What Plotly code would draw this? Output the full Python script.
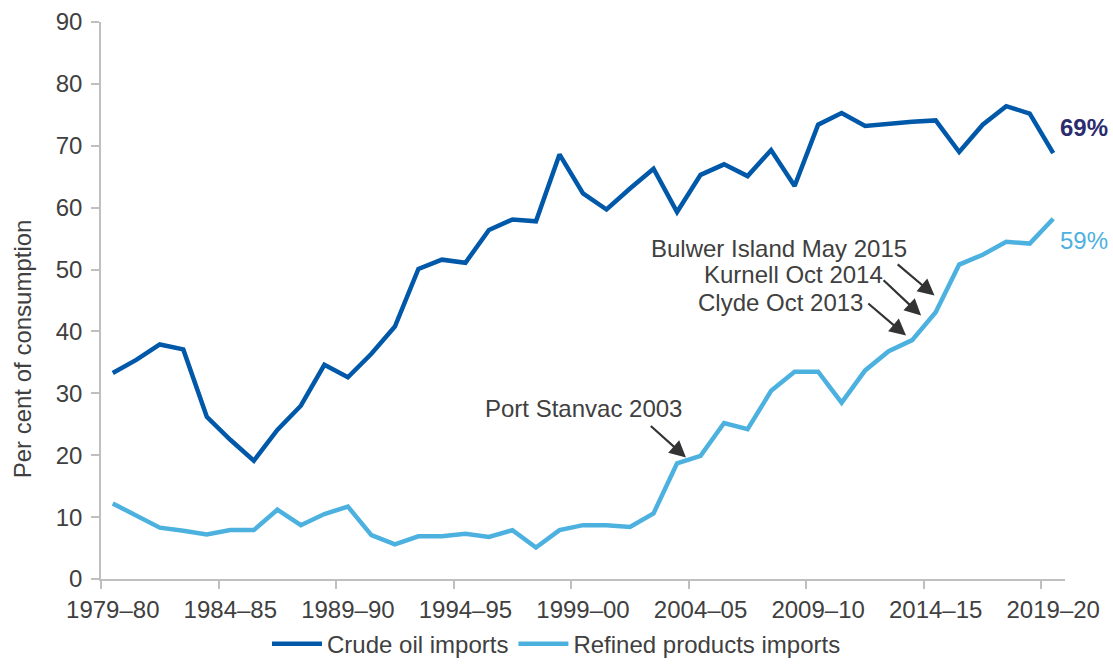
import plotly.graph_objects as go

# ── Data ─────────────────────────────────────────────────────────────────────

YEARS = [
    "1979–80", "1980–81", "1981–82", "1982–83", "1983–84",
    "1984–85", "1985–86", "1986–87", "1987–88", "1988–89",
    "1989–90", "1990–91", "1991–92", "1992–93", "1993–94",
    "1994–95", "1995–96", "1996–97", "1997–98", "1998–99",
    "1999–00", "2000–01", "2001–02", "2002–03", "2003–04",
    "2004–05", "2005–06", "2006–07", "2007–08", "2008–09",
    "2009–10", "2010–11", "2011–12", "2012–13", "2013–14",
    "2014–15", "2015–16", "2016–17", "2017–18", "2018–19",
    "2019–20",
]

CRUDE = [
    33.3, 35.4, 37.9, 37.1, 26.2, 22.5, 19.1, 24.1, 28.0, 34.6,
    32.6, 36.4, 40.8, 50.1, 51.6, 51.1, 56.4, 58.1, 57.8, 68.6,
    62.3, 59.7, 63.1, 66.3, 59.3, 65.3, 67.0, 65.1, 69.3, 63.5,
    73.4, 75.3, 73.2, 73.6, 73.9, 74.1, 69.0, 73.4, 76.4, 75.2,
    68.8,
]

REFINED = [
    12.2, 10.2, 8.3, 7.8, 7.2, 7.9, 7.9, 11.2, 8.7, 10.5,
    11.7, 7.1, 5.6, 6.9, 6.9, 7.3, 6.8, 7.9, 5.1, 7.9,
    8.7, 8.7, 8.4, 10.6, 18.7, 19.9, 25.2, 24.2, 30.4, 33.5,
    33.5, 28.5, 33.7, 36.8, 38.6, 43.1, 50.8, 52.4, 54.5, 54.2,
    58.2,
]

LABEL_EVERY = 5

# ── Style ────────────────────────────────────────────────────────────────────

CRUDE_COLOR = "#0058A9"
REFINED_COLOR = "#4DB1E0"
NAVY = "#2B2C6E"
TEXT_COLOR = "#404040"
AXIS_COLOR = "#BFBFBF"
FONT = "Liberation Sans, Arial, sans-serif"
FS = 24

x = list(range(len(YEARS)))

fig = go.Figure()

fig.add_trace(go.Scatter(
    x=x, y=CRUDE, mode="lines", name="Crude oil imports",
    line=dict(color=CRUDE_COLOR, width=4.5),
))
fig.add_trace(go.Scatter(
    x=x, y=REFINED, mode="lines", name="Refined products imports",
    line=dict(color=REFINED_COLOR, width=4.5),
))

# end labels
fig.add_annotation(x=x[-1] + 0.2, y=73.0, text="<b>69%</b>", showarrow=False,
                   xanchor="left", font=dict(color=NAVY, size=FS))
fig.add_annotation(x=x[-1] + 0.2, y=54.7, text="59%", showarrow=False,
                   xanchor="left", font=dict(color=REFINED_COLOR, size=FS))

# refinery closure notes: (text, text x, text y, anchor, tail x, tail y, head x, head y)
NOTES = [
    ("Port Stanvac 2003", 20.0, 27.5, "center", 22.82, 24.93, 24.38, 19.63),
    ("Clyde Oct 2013", 32.0, 44.7, "right", 32.07, 44.72, 33.74, 39.33),
    ("Kurnell Oct 2014", 32.86, 49.2, "right", 32.72, 48.51, 34.38, 42.57),
    ("Bulwer Island May 2015", 33.88, 53.4, "right", 33.32, 51.04, 34.95, 45.81),
]
for text, tx, ty, anchor, ax, ay, hx, hy in NOTES:
    fig.add_annotation(x=tx, y=ty, text=text, showarrow=False, xanchor=anchor,
                       font=dict(color=TEXT_COLOR, size=FS))
    fig.add_annotation(x=hx, y=hy, ax=ax, ay=ay, axref="x", ayref="y", text="",
                       showarrow=True, arrowhead=2, arrowsize=1.5, arrowwidth=2.2,
                       arrowcolor="#333333", standoff=0, startstandoff=0)

# y-axis title sits a little below the middle, as in the original
fig.add_annotation(xref="paper", yref="paper", x=-0.082, y=0.414,
                   xanchor="center", yanchor="middle",
                   text="Per cent of consumption", textangle=-90, showarrow=False,
                   font=dict(color=TEXT_COLOR, size=FS))

fig.update_layout(
    width=1113, height=664,
    margin=dict(l=101, r=48, t=22, b=85, autoexpand=False),
    paper_bgcolor="white", plot_bgcolor="white",
    font=dict(family=FONT, color=TEXT_COLOR, size=FS),
    showlegend=True,
    legend=dict(
        orientation="h", xref="container", yref="container",
        x=0.5, xanchor="center", y=0.03, yanchor="middle",
        font=dict(size=FS, color=TEXT_COLOR),
        itemwidth=50,
    ),
    xaxis=dict(
        range=[-0.5, len(YEARS) - 0.5],
        tickmode="array",
        tickvals=x[::LABEL_EVERY],
        ticktext=YEARS[::LABEL_EVERY],
        ticks="",
        ticklabelstandoff=8,
        showgrid=False, zeroline=False,
        showline=True, linecolor=AXIS_COLOR, linewidth=1.5,
        tickfont=dict(size=FS, color=TEXT_COLOR),
        minor=dict(tickmode="linear", tick0=-0.5, dtick=LABEL_EVERY,
                   ticks="outside", ticklen=8, tickcolor=AXIS_COLOR,
                   tickwidth=1.5, showgrid=False),
    ),
    yaxis=dict(
        range=[0, 90], dtick=10,
        ticks="outside", ticklen=8, tickcolor=AXIS_COLOR, tickwidth=1.5,
        ticklabelstandoff=4,
        showgrid=False, zeroline=False,
        showline=True, linecolor=AXIS_COLOR, linewidth=1.5,
        tickfont=dict(size=FS, color=TEXT_COLOR),
    ),
)

# drop the browser's default page margin so the figure sits at the window's corner
fig.write_html("out.html", config={"displayModeBar": False},
               post_script="document.body.style.margin='0';")
